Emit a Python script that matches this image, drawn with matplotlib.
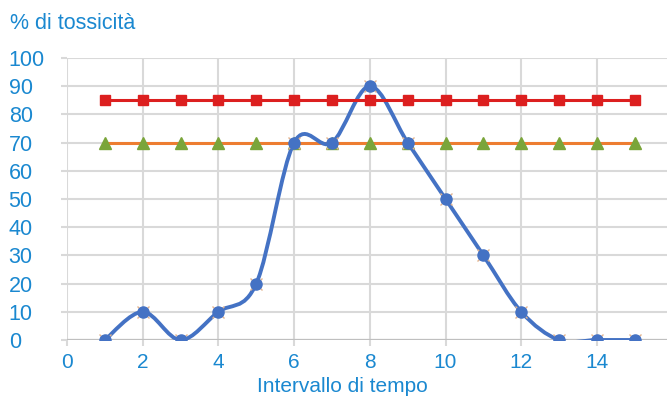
import matplotlib.pyplot as plt
from matplotlib.path import Path
from matplotlib.patches import PathPatch

plt.rcParams['font.family'] = ['Liberation Sans', 'DejaVu Sans']

# dati
intervalli = [1, 2, 3, 4, 5, 6, 7, 8, 9, 10, 11, 12, 13, 14, 15]
tossicita = [0, 10, 0, 10, 20, 70, 70, 90, 70, 50, 30, 10, 0, 0, 0]
soglia_alta = [85] * 15
soglia_media = [70] * 15
xticks = [0, 2, 4, 6, 8, 10, 12, 14]
yticks = [0, 10, 20, 30, 40, 50, 60, 70, 80, 90, 100]

testo = '#1a88d0'
blu = '#4472c4'
rosso = '#dc1f1f'
arancio = '#ed7d31'
verde = '#7aa53a'
griglia = '#d9d9d9'

fig = plt.figure(figsize=(6.67, 3.96), dpi=100)
ax = fig.add_axes([67 / 667, 1 - 340 / 396, 1 - 67 / 667, (340 - 58) / 396])

ax.set_xlim(0, 15.85)
ax.set_ylim(0, 100)
ax.set_xticks(xticks)
ax.set_yticks(yticks)
ax.grid(True, color=griglia, linewidth=1.5)
ax.set_axisbelow(True)
for s in ax.spines.values():
    s.set_visible(False)
ax.axhline(0, color='#bfbfbf', linewidth=1.6, zorder=1)

ax.tick_params(axis='both', colors=griglia, length=4, width=1.5,
               labelcolor=testo, labelsize=15.5)
ax.tick_params(axis='x', pad=5, labelsize=15)
ax.tick_params(axis='y', pad=38)
for lab in ax.get_yticklabels():
    lab.set_horizontalalignment('left')

# linea orizzontale 70 con triangoli
ax.plot(intervalli, soglia_media, color=arancio, linewidth=2.2, zorder=2)
ax.plot(intervalli, soglia_media, linestyle='none', marker='^', markersize=8,
        color=verde, zorder=2.5)

# curva smussata (bezier stile excel)
pts = list(zip(intervalli, tossicita))
verts = [pts[0]]
codes = [Path.MOVETO]
n = len(pts)
for i in range(n - 1):
    p0 = pts[i - 1] if i > 0 else pts[i]
    p1 = pts[i]
    p2 = pts[i + 1]
    p3 = pts[i + 2] if i + 2 < n else pts[i + 1]
    c1 = (p1[0] + (p2[0] - p0[0]) / 6, p1[1] + (p2[1] - p0[1]) / 6)
    c2 = (p2[0] - (p3[0] - p1[0]) / 6, p2[1] - (p3[1] - p1[1]) / 6)
    verts += [c1, c2, p2]
    codes += [Path.CURVE4] * 3
ax.add_patch(PathPatch(Path(verts, codes), facecolor='none', edgecolor=blu,
                       linewidth=2.8, zorder=3, capstyle='round'))
ax.plot(intervalli, tossicita, linestyle='none', marker='x', markersize=9,
        markeredgewidth=1, color='#e3b48f', zorder=3.1)
ax.plot(intervalli, tossicita, linestyle='none', marker='o', markersize=8,
        color=blu, zorder=3.2)

# linea orizzontale 85 con quadrati
ax.plot(intervalli, soglia_alta, color=rosso, linewidth=2.2, marker='s',
        markersize=7.5, zorder=4)

fig.text(10 / 667, 1 - 29 / 396, '% di tossicità', color=testo, fontsize=15.5,
         va='baseline', ha='left')
fig.text(342 / 667, 1 - 392 / 396, 'Intervallo di tempo', color=testo,
         fontsize=15, va='baseline', ha='center')

fig.savefig('out.png', dpi=100)
